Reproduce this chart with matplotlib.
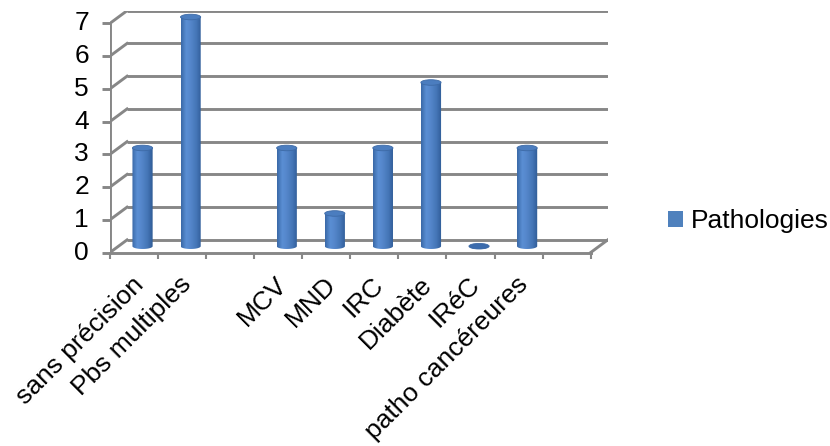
import numpy as np
import matplotlib
matplotlib.use("Agg")
import matplotlib.pyplot as plt
from matplotlib.patches import Polygon, Ellipse, Patch
from matplotlib.colors import LinearSegmentedColormap

# ---- data -------------------------------------------------------------
categories = ["sans précision", "Pbs multiples", "", "MCV", "MND", "IRC",
              "Diabète", "IRéC", "patho cancéreures", ""]
values = [3, 7, None, 3, 1, 3, 5, 0, 3, None]
y_ticks = [0, 1, 2, 3, 4, 5, 6, 7]
series_name = "Pathologies"

# ---- style ------------------------------------------------------------
plt.rcParams["font.family"] = ["Liberation Sans", "DejaVu Sans"]
FS = 19
GRID = "#878787"
SERIES = "#4f81bd"

W, H = 830, 446
PX_X, PX_Y = 48.07, 32.74          # pixels per data unit (x, y)
DX, DY = 0.354, 0.385              # depth of the 3-D box in data units
BW, EH = 0.42, 0.17                # cylinder width / cap ellipse height

fig = plt.figure(figsize=(W / 100, H / 100), dpi=100)
n = len(categories)
xmax = n - 0.5 + DX
ymax = max(y_ticks) + DY
left_px, floor_px = 110, 252.5
ax = fig.add_axes([left_px / W, (H - floor_px) / H,
                   (xmax + 0.5) * PX_X / W, ymax * PX_Y / H])
ax.set_autoscale_on(False)
ax.set_xlim(-0.5, xmax)
ax.set_ylim(0, ymax)
ax.axis("off")

lw = 2.1
x0, x1 = -0.5, n - 0.5
# back wall gridlines and left-wall diagonals
for y in y_ticks:
    ax.plot([x0 + DX, x1 + DX], [y + DY, y + DY], color=GRID, lw=lw,
            solid_capstyle="butt", zorder=1)
    ax.plot([x0, x0 + DX], [y, y + DY], color=GRID, lw=lw, zorder=1)
    # tick on the front vertical axis
    ax.plot([x0 - 8 / PX_X, x0], [y, y], color=GRID, lw=lw,
            clip_on=False, solid_capstyle="butt", zorder=1)
    ax.text(x0 - 21 / PX_X, y, str(y), ha="right", va="center",
            fontsize=FS, color="black")

# front vertical axis
ax.plot([x0, x0], [0, max(y_ticks)], color=GRID, lw=lw, zorder=2,
        solid_capstyle="butt")
# floor: front edge and right-hand diagonal
ax.plot([x0, x1], [0, 0], color=GRID, lw=lw, zorder=2, clip_on=False)
ax.plot([x1, x1 + DX], [0, DY], color=GRID, lw=lw, zorder=1)
# category ticks below the floor
for b in np.arange(x0, x1 + 0.01, 1.0):
    ax.plot([b, b], [0, -6 / PX_Y], color=GRID, lw=1.5, clip_on=False,
            solid_capstyle="butt", zorder=1)

# category labels
for i, lab in enumerate(categories):
    if lab:
        ax.text(i - 3 / PX_X, -20 / PX_Y, lab, ha="right", va="top",
                rotation=45, rotation_mode="anchor", fontsize=FS,
                color="black")

# cylinders
cmap = LinearSegmentedColormap.from_list(
    "cyl", [(0.0, "#3a68a6"), (0.25, "#5a8fd4"), (0.45, "#5587cb"),
            (0.75, "#4475b6"), (1.0, "#2f5b95")])
grad = np.linspace(0, 1, 128).reshape(1, -1)
t = np.linspace(np.pi, 2 * np.pi, 60)
for i, v in enumerate(values):
    if v is None:
        continue
    cx = i + DX / 2
    yb = DY / 2
    yt = v + DY / 2
    arc = np.column_stack([cx + BW / 2 * np.cos(t), yb + EH / 2 * np.sin(t)])
    body = np.vstack([[cx - BW / 2, yt], arc, [cx + BW / 2, yt]])
    poly = Polygon(body, closed=True, facecolor="none", edgecolor="none")
    ax.add_patch(poly)
    im = ax.imshow(grad, cmap=cmap, extent=[cx - BW / 2, cx + BW / 2,
                                            yb - EH / 2, yt],
                   aspect="auto", zorder=3, interpolation="bilinear")
    im.set_clip_path(poly)
    cap_col = "#4b7dbf" if v > 0 else "#3c6cad"
    ax.add_patch(Ellipse((cx, yt), BW, EH, facecolor=cap_col,
                         edgecolor="#3d6aa6", lw=0.6, zorder=4))

ax.set_xlim(-0.5, xmax)
ax.set_ylim(0, ymax)

fig.legend(handles=[Patch(facecolor=SERIES, label=series_name)],
           loc="center left", bbox_to_anchor=(668 / W, 1 - 221 / H),
           frameon=False, fontsize=FS, handlelength=0.55,
           handleheight=0.55, handletextpad=0.3, borderpad=0,
           borderaxespad=0)

fig.savefig("out.png", dpi=100)
